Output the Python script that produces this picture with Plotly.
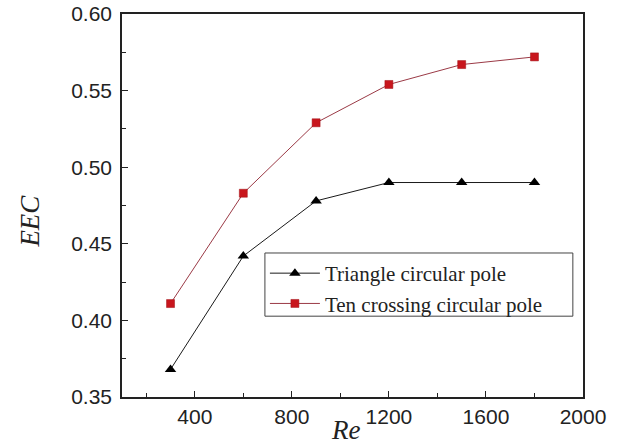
import plotly.graph_objects as go

re_values = [300, 600, 900, 1200, 1500, 1800]
triangle_eec = [0.368, 0.442, 0.478, 0.490, 0.490, 0.490]
ten_crossing_eec = [0.411, 0.483, 0.529, 0.554, 0.567, 0.572]
series_names = ["Triangle circular pole", "Ten crossing circular pole"]

fig = go.Figure()
fig.add_trace(go.Scatter(
    x=re_values, y=triangle_eec, name=series_names[0], mode="lines+markers",
    line=dict(color="#1a1a1a", width=1),
    marker=dict(symbol="triangle-up", size=10, color="#000000"),
))
fig.add_trace(go.Scatter(
    x=re_values, y=ten_crossing_eec, name=series_names[1], mode="lines+markers",
    line=dict(color="#9b3a46", width=1),
    marker=dict(symbol="square", size=8, color="#c8161d", line=dict(color="#a01015", width=0.5)),
))

axis_common = dict(
    showline=True, linecolor="#222", linewidth=1.6, mirror=True,
    ticks="inside", ticklen=6, tickwidth=1.2, tickcolor="#222",
    showgrid=False, zeroline=False, automargin=False,
    tickfont=dict(family="Liberation Sans, Arial", size=21, color="#222"),
)
fig.update_xaxes(range=[100, 2000], tick0=400, dtick=400,
                 minor=dict(ticks="inside", ticklen=4, dtick=200, tick0=0, tickcolor="#222"),
                 **axis_common)
fig.update_yaxes(range=[0.35, 0.60], tick0=0.35, dtick=0.05, tickformat=".2f",
                 ticklabelstandoff=4,
                 minor=dict(ticks="inside", ticklen=4, dtick=0.025, tick0=0.35, tickcolor="#222"),
                 **axis_common)

fig.add_annotation(text="<i>Re</i>", xref="paper", yref="paper", x=0.485, y=-0.085,
                   showarrow=False, yanchor="middle",
                   font=dict(family="Liberation Serif, Times New Roman", size=27, color="#222"))
fig.add_annotation(text="<i>EEC</i>", xref="paper", yref="paper", x=-0.2, y=0.46,
                   showarrow=False, textangle=-90, xanchor="center",
                   font=dict(family="Liberation Serif, Times New Roman", size=27, color="#222"))

# legend frame
fig.add_shape(type="rect", xref="paper", yref="paper", x0=0.31, x1=0.978, y0=0.211, y1=0.376,
              line=dict(color="#444", width=1), fillcolor="white", layer="above")

fig.update_layout(
    width=632, height=445,
    margin=dict(l=122, r=49, t=14, b=48),
    paper_bgcolor="white", plot_bgcolor="white",
    showlegend=True,
    legend=dict(x=0.31, y=0.376, xanchor="left", yanchor="top",
                bgcolor="rgba(0,0,0,0)", borderwidth=0,
                font=dict(family="Liberation Serif, Times New Roman", size=21, color="#222"),
                itemwidth=50, tracegroupgap=0),
)

fig.write_html("out.html", config={"displayModeBar": False},
               post_script="document.body.style.margin='0';")
